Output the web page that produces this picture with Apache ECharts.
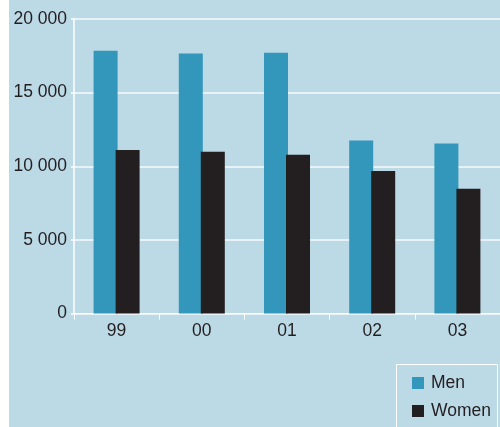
<!DOCTYPE html>
<html>
<head>
<meta charset="utf-8">
<script src="https://cdn.jsdelivr.net/npm/echarts@6/dist/echarts.min.js"></script>
<style>
  html, body { margin: 0; padding: 0; background: #ffffff; }
  #chart {
    width: 500px; height: 427px;
    background: linear-gradient(to right, #ffffff 9px, #bcd9e6 9px);
  }
</style>
</head>
<body>
<div id="chart"></div>
<script>
// Years on the category axis
const years = ['99', '00', '01', '02', '03'];
// Number of people per year
const men = [17850, 17650, 17700, 11750, 11550];
const women = [11100, 10980, 10780, 9680, 8480];
// Value-axis ticks and their printed text
const yTicks = [0, 5000, 10000, 15000, 20000];
const yTickLabels = ['0', '5 000', '10 000', '15 000', '20 000'];
const seriesNames = ['Men', 'Women'];

const FONT = '"Liberation Sans", Arial, Helvetica, sans-serif';
const TEXT = '#231f20';
const FS = 17.5;

const chart = echarts.init(document.getElementById('chart'), null, { renderer: 'canvas' });

chart.setOption({
  backgroundColor: 'transparent',
  animation: false,
  textStyle: { fontFamily: FONT },
  grid: { left: 74, right: -6, top: 19, bottom: 113.5 },
  graphic: [{
    type: 'rect',
    shape: { x: 396.5, y: 364.5, width: 101, height: 80 },
    style: { fill: 'none', stroke: '#ffffff', lineWidth: 1 },
    silent: true
  }],
  legend: {
    orient: 'vertical',
    left: 412,
    top: 374,
    padding: 0,
    itemWidth: 12,
    itemHeight: 12,
    itemGap: 10,
    icon: 'rect',
    data: seriesNames,
    textStyle: {
      fontFamily: FONT, fontSize: FS, color: TEXT,
      lineHeight: 17, padding: [0, 0, 0, 2]
    }
  },
  xAxis: {
    type: 'category',
    data: years,
    axisLine: { show: true, lineStyle: { color: '#ffffff', width: 1 } },
    axisTick: { show: true, length: 6, lineStyle: { color: '#ffffff', width: 1 } },
    axisLabel: { fontFamily: FONT, fontSize: FS, color: TEXT, margin: 9 },
    splitLine: { show: false }
  },
  yAxis: {
    type: 'value',
    min: yTicks[0],
    max: yTicks[yTicks.length - 1],
    interval: yTicks[1] - yTicks[0],
    axisLine: { show: true, lineStyle: { color: '#ffffff', width: 1.5 } },
    axisTick: { show: true, length: 3, lineStyle: { color: '#ffffff', width: 1.5 } },
    axisLabel: {
      fontFamily: FONT, fontSize: FS, color: TEXT, margin: 7,
      formatter: v => yTickLabels[yTicks.indexOf(v)]
    },
    splitLine: { show: true, lineStyle: { color: 'rgba(255,255,255,0.85)', width: 1.5 } }
  },
  series: [
    {
      name: seriesNames[0],
      type: 'bar',
      data: men,
      barWidth: 24,
      barGap: '-8.3%',
      itemStyle: { color: '#3297ba' }
    },
    {
      name: seriesNames[1],
      type: 'bar',
      data: women,
      barWidth: 24,
      itemStyle: { color: '#231f20' }
    }
  ]
});
</script>
</body>
</html>
